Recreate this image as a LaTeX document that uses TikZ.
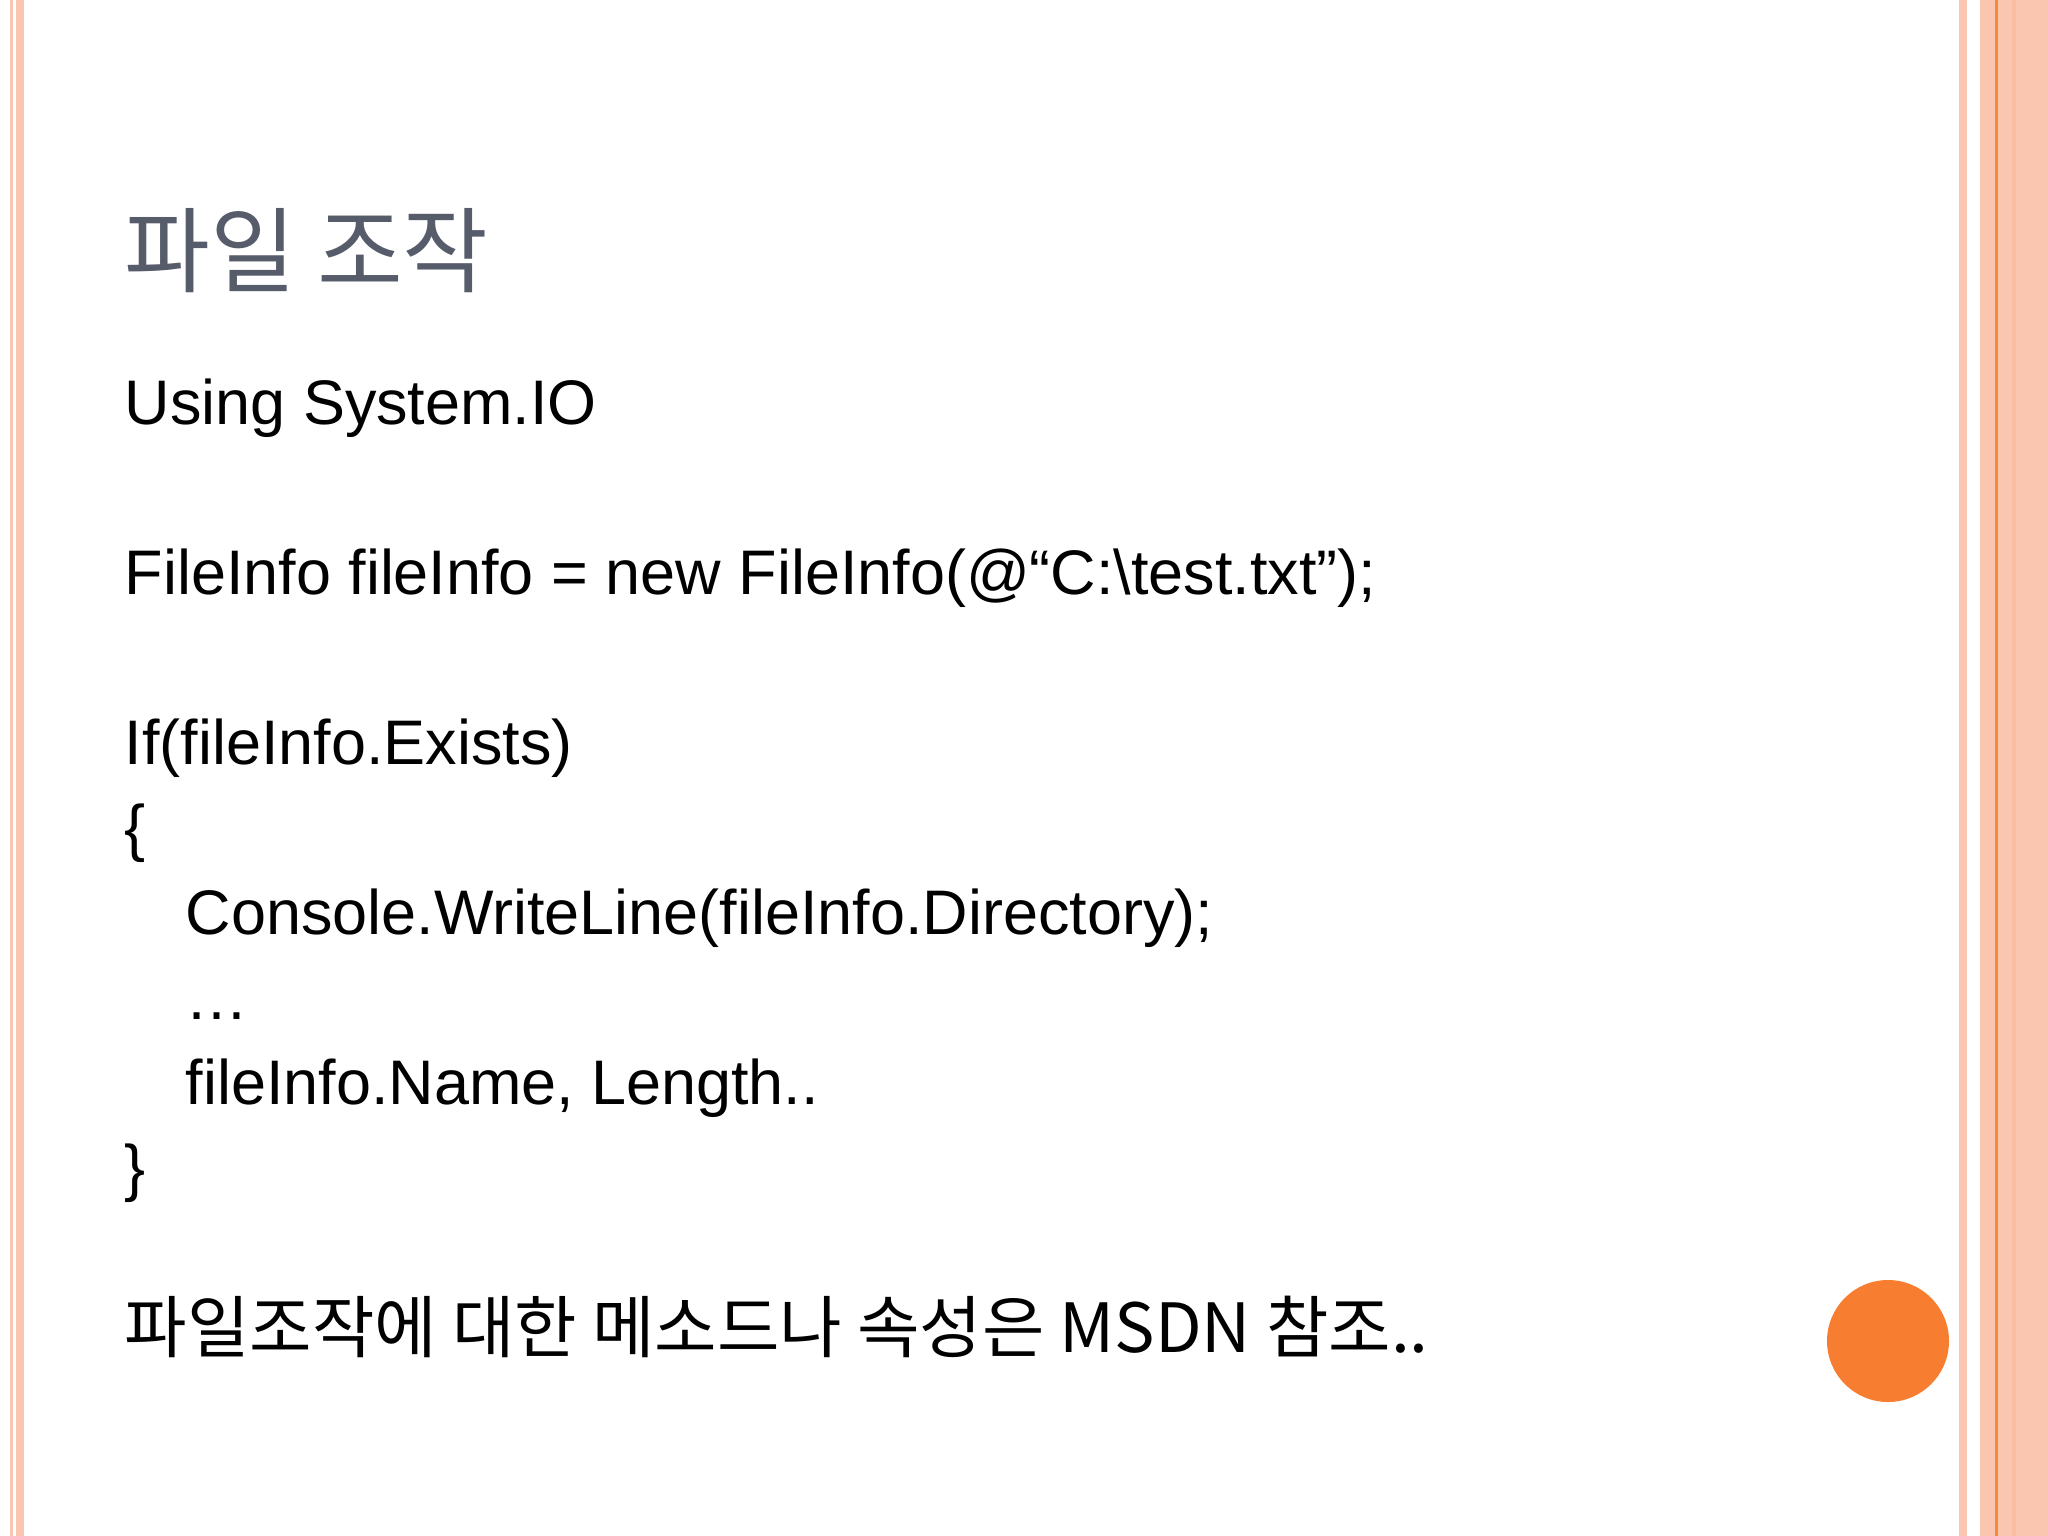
\documentclass[tikz,border=0pt]{standalone}
\usepackage{fontspec}
\setmainfont{Liberation Sans}
\newfontfamily\cjk{Noto Sans CJK KR}
\begin{document}
\begin{tikzpicture}[x=0.01cm,y=-0.01cm]
\definecolor{pk}{HTML}{FBC6B0}
\definecolor{og}{HTML}{F58A3C}
\definecolor{tg}{HTML}{575C6A}
\tikzset{ln/.style={anchor=base west,inner sep=0,font=\fontsize{17.9}{22}\selectfont}}
\useasboundingbox (0,0) rectangle (2048,1536);
\fill[white] (0,0) rectangle (2048,1536);
% left stripes
\fill[pk] (10,0) rectangle (13,1536);
\fill[pk] (16,0) rectangle (24,1536);
% right stripes
\fill[pk] (1959,0) rectangle (1967,1536);
\fill[pk] (1980,0) rectangle (2048,1536);
\fill[pk!85!og] (2012,0) rectangle (2016,1536);
\fill[og] (1995,0) rectangle (1998,1536);
% circle
\fill[orange!60!red!20!og] (1888,1341) circle (61);
\node[ln,text=tg,font=\cjk\fontsize{26.5}{30}\selectfont] (t) at (124,285) {파일 조작};
\node[ln] (l1) at (124,424) {Using System.IO};
\node[ln] (l2) at (124,594) {FileInfo fileInfo = new FileInfo(@“C:\textbackslash test.txt”);};
\node[ln] (l3) at (124,764) {If(fileInfo.Exists)};
\node[ln] (l4) at (124,849) {\{};
\node[ln] (l5) at (185,934) {Console.WriteLine(fileInfo.Directory);};
\node[ln] (l6) at (185,1019) {…};
\node[ln] (l7) at (185,1104) {fileInfo.Name, Length..};
\node[ln] (l8) at (124,1189) {\}};
\node[ln,font=\cjk\fontsize{19.3}{24}\selectfont] (l9) at (124,1352) {파일조작에 대한 메소드나 속성은 MSDN 참조..};
\end{tikzpicture}
\end{document}
